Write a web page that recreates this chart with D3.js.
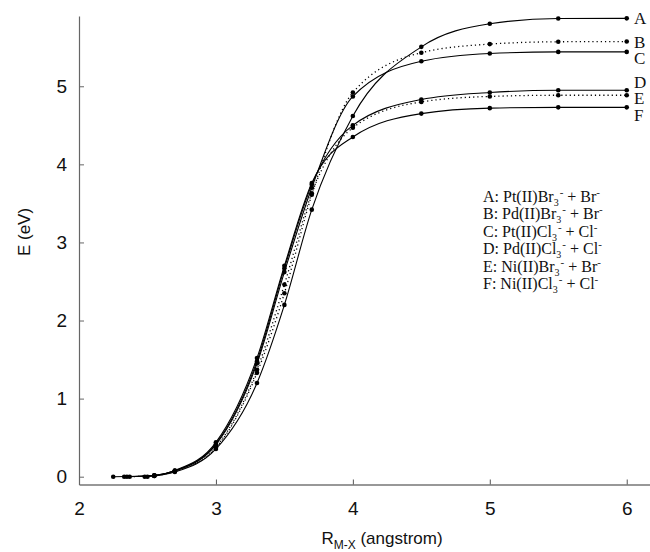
<!DOCTYPE html>
<html>
<head>
<meta charset="utf-8">
<script src="https://cdn.jsdelivr.net/npm/d3@7"></script>
<style>
  body { margin: 0; background: #fff; }
  svg { display: block; }
</style>
</head>
<body>
<svg id="chart" width="650" height="552"></svg>
<script>
// Datos de las curvas (R en angstrom, E en eV)
var seriesKeys = ['A', 'B', 'C', 'D', 'E', 'F'];
var dottedKeys = ['B', 'E'];

var rA = [2.50, 2.55, 2.7, 3.0, 3.3, 3.5, 3.7, 4.0, 4.5, 5.0, 5.5, 6.0];
var eA = [0, 0.01, 0.06, 0.355, 1.20, 2.20, 3.42, 4.62, 5.505, 5.80, 5.868, 5.87];
var rB = [2.48, 2.55, 2.7, 3.0, 3.3, 3.5, 3.7, 4.0, 4.5, 5.0, 5.5, 6.0];
var eB = [0, 0.01, 0.07, 0.37, 1.33, 2.35, 3.61, 4.92, 5.43, 5.54, 5.57, 5.573];
var rC = [2.35, 2.55, 2.7, 3.0, 3.3, 3.5, 3.7, 4.0, 4.5, 5.0, 5.5, 6.0];
var eC = [0, 0.015, 0.075, 0.41, 1.45, 2.62, 3.70, 4.87, 5.32, 5.42, 5.44, 5.44];
var rD = [2.33, 2.55, 2.7, 3.0, 3.3, 3.5, 3.7, 4.0, 4.5, 5.0, 5.5, 6.0];
var eD = [0, 0.015, 0.075, 0.42, 1.48, 2.67, 3.74, 4.50, 4.83, 4.92, 4.95, 4.95];
var rE = [2.37, 2.55, 2.7, 3.0, 3.3, 3.5, 3.7, 4.0, 4.5, 5.0, 5.5, 6.0];
var eE = [0, 0.015, 0.07, 0.38, 1.37, 2.46, 3.63, 4.47, 4.80, 4.87, 4.885, 4.885];
var rF = [2.25, 2.55, 2.7, 3.0, 3.3, 3.5, 3.7, 4.0, 4.5, 5.0, 5.5, 6.0];
var eF = [0, 0.015, 0.08, 0.44, 1.52, 2.70, 3.76, 4.35, 4.65, 4.72, 4.73, 4.73];

var xTicks = [2, 3, 4, 5, 6];
var yTicks = [0, 1, 2, 3, 4, 5];

// Leyenda: metal y haluro de cada curva
var legendMetal = ['Pt(II)Br', 'Pd(II)Br', 'Pt(II)Cl', 'Pd(II)Cl', 'Ni(II)Br', 'Ni(II)Cl'];
var legendIon = ['Br', 'Br', 'Cl', 'Cl', 'Br', 'Cl'];

var rs = { A: rA, B: rB, C: rC, D: rD, E: rE, F: rF };
var es = { A: eA, B: eB, C: eC, D: eD, E: eE, F: eF };

var series = seriesKeys.map(function (k) {
  return {
    key: k,
    dotted: dottedKeys.indexOf(k) >= 0,
    values: rs[k].map(function (r, i) { return { r: r, e: es[k][i] }; })
  };
});

var svg = d3.select('#chart');

// Escalas
var x = d3.scaleLinear().domain([2, 6.17]).range([79, 650]);
var y = d3.scaleLinear().domain([-0.1, 5.9]).range([484.5, 16]);

// Ejes
var xAxis = svg.append('g')
  .attr('transform', 'translate(0,' + y(-0.1) + ')')
  .call(d3.axisBottom(x).tickValues(xTicks).tickSizeInner(-5).tickSizeOuter(0).tickPadding(17)
    .tickFormat(d3.format('d')));

xAxis.select('.domain').attr('stroke', '#333').attr('stroke-width', 1.2);
xAxis.selectAll('.tick line').attr('stroke', '#555');
xAxis.selectAll('text')
  .attr('font-family', 'Liberation Sans, Arial, sans-serif')
  .attr('font-size', 19)
  .attr('fill', '#111');

var yAxis = svg.append('g')
  .attr('transform', 'translate(' + x(2) + ',0)')
  .call(d3.axisLeft(y).tickValues(yTicks).tickSizeInner(-5).tickSizeOuter(0).tickPadding(12)
    .tickFormat(d3.format('d')));

yAxis.select('.domain').attr('stroke', '#666').attr('stroke-width', 1.2);
yAxis.selectAll('.tick line').attr('stroke', '#666');
yAxis.selectAll('text')
  .attr('font-family', 'Liberation Sans, Arial, sans-serif')
  .attr('font-size', 19)
  .attr('fill', '#111');

// Titulos de ejes
svg.append('text')
  .attr('transform', 'translate(30,232) rotate(-90)')
  .attr('text-anchor', 'middle')
  .attr('font-family', 'Liberation Sans, Arial, sans-serif')
  .attr('font-size', 17)
  .attr('fill', '#111')
  .text('E (eV)');

var xTitle = svg.append('text')
  .attr('x', 382)
  .attr('y', 544)
  .attr('text-anchor', 'middle')
  .attr('font-family', 'Liberation Sans, Arial, sans-serif')
  .attr('font-size', 17)
  .attr('fill', '#111');
xTitle.append('tspan').text('R');
xTitle.append('tspan').attr('font-size', 12).attr('dy', 5).text('M-X');
xTitle.append('tspan').attr('dy', -5).text(' (angstrom)');

// Curvas
var line = d3.line()
  .x(function (d) { return x(d.r); })
  .y(function (d) { return y(d.e); })
  .curve(d3.curveMonotoneX);

var groups = svg.selectAll('.serie')
  .data(series)
  .enter()
  .append('g')
  .attr('class', 'serie');

groups.append('path')
  .attr('d', function (d) { return line(d.values); })
  .attr('fill', 'none')
  .attr('stroke', '#000')
  .attr('stroke-width', function (d) { return d.dotted ? 1.3 : 1.1; })
  .attr('stroke-dasharray', function (d) { return d.dotted ? '1.2,3' : null; });

groups.selectAll('circle')
  .data(function (d) { return d.values; })
  .enter()
  .append('circle')
  .attr('cx', function (d) { return x(d.r); })
  .attr('cy', function (d) { return y(d.e); })
  .attr('r', 2.3)
  .attr('fill', '#000');

// Etiquetas de las curvas a la derecha
var endLabelY = { A: 24, B: 48, C: 64, D: 88, E: 104, F: 121 };
svg.selectAll('.endlabel')
  .data(series)
  .enter()
  .append('text')
  .attr('class', 'endlabel')
  .attr('x', 634)
  .attr('y', function (d) { return endLabelY[d.key]; })
  .attr('font-family', 'Liberation Serif, Times New Roman, serif')
  .attr('font-size', 17)
  .attr('fill', '#111')
  .text(function (d) { return d.key; });

// Leyenda
var legend = svg.selectAll('.legend')
  .data(seriesKeys)
  .enter()
  .append('text')
  .attr('class', 'legend')
  .attr('x', 483)
  .attr('y', function (d, i) { return 202 + i * 17.4; })
  .attr('font-family', 'Liberation Serif, Times New Roman, serif')
  .attr('font-size', 16)
  .attr('fill', '#111');

legend.append('tspan').text(function (d, i) { return d + ': ' + legendMetal[i]; });
legend.append('tspan').attr('font-size', 10).attr('dy', 4).text('3');
legend.append('tspan').attr('font-size', 11).attr('dy', -10).attr('dx', 1).text('-');
legend.append('tspan').attr('dy', 6).text(function (d, i) { return ' + ' + legendIon[i]; });
legend.append('tspan').attr('font-size', 11).attr('dy', -6).text('-');
</script>
</body>
</html>
